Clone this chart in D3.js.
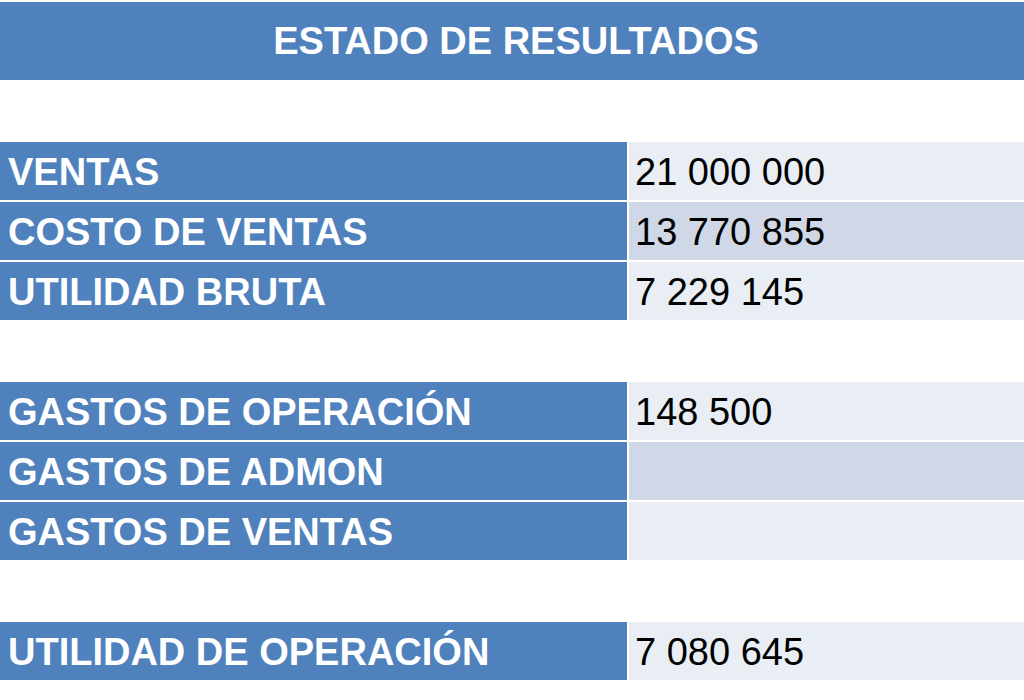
<!DOCTYPE html><html><head><meta charset="utf-8"><script src="https://cdn.jsdelivr.net/npm/d3@7"></script>
<style>body{margin:0;background:#fff}</style></head><body><svg id="c" width="1024" height="700"></svg>
<script>
const title = "ESTADO DE RESULTADOS";
const labels = ["VENTAS","COSTO DE VENTAS","UTILIDAD BRUTA","GASTOS DE OPERACIÓN","GASTOS DE ADMON","GASTOS DE VENTAS","UTILIDAD DE OPERACIÓN"];
const values = ["21 000 000","13 770 855","7 229 145","148 500","","","7 080 645"];
const slots = [0,1,2,4,5,6,8];
const shade = [0,1,0,0,1,0,0];
const svg = d3.select("#c");
const font = "'Liberation Sans Narrow','Arial Narrow',sans-serif";
const y = d3.scaleLinear().domain([0,1]).range([142,202]);
const x = d3.scaleLinear().domain([0,1]).range([0,629]);
svg.append("rect").attr("x",0).attr("y",2).attr("width",1024).attr("height",78).attr("fill","#4f81bd");
svg.append("text").attr("x",516).attr("y",54).attr("text-anchor","middle").attr("fill","#fff")
 .attr("font-family",font).attr("font-weight","bold").attr("font-size",38).text(title);
const g = svg.selectAll("g.row").data(labels).join("g").attr("class","row")
 .attr("transform",(d,i)=>`translate(0,${y(slots[i])})`);
g.append("rect").attr("x",0).attr("width",x(1)-2).attr("height",58).attr("fill","#4f81bd");
g.append("rect").attr("x",x(1)).attr("width",1024-x(1)).attr("height",58).attr("fill",(d,i)=>shade[i]?"#d0d8e8":"#e9edf4");
g.append("text").attr("x",8).attr("y",43).attr("fill","#fff").attr("font-family",font).attr("font-weight","bold").attr("font-size",38).text(d=>d);
g.append("text").attr("x",x(1)+6).attr("y",43).attr("fill","#000").attr("font-family",font).attr("font-size",38).text((d,i)=>values[i]);
</script></body></html>
